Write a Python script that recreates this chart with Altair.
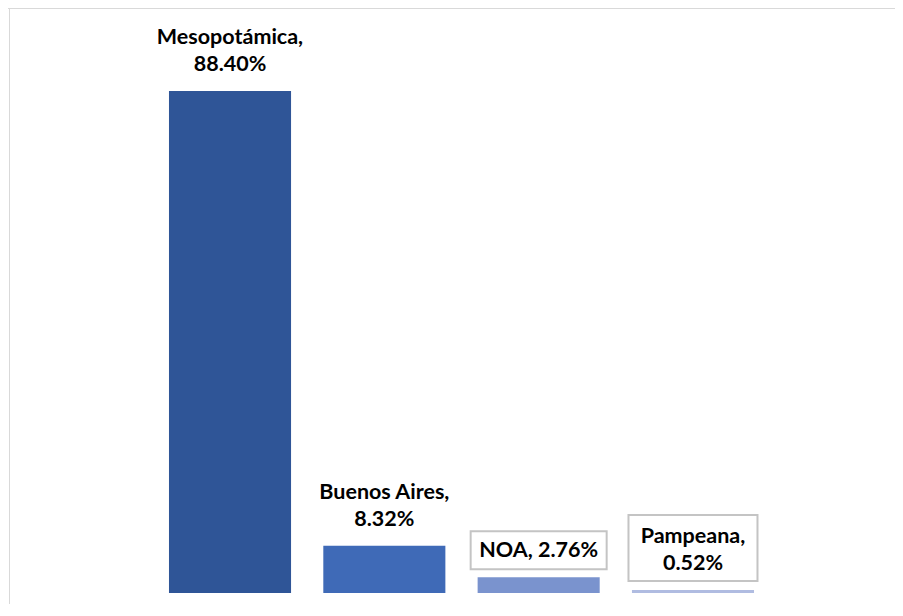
import altair as alt
import pandas as pd

regions = ["Mesopotámica", "Buenos Aires", "NOA", "Pampeana"]
shares = [88.40, 8.32, 2.76, 0.52]
colors = ["#2F5597", "#3F6AB7", "#7A93CE", "#B0BCE1"]

df = pd.DataFrame({"region": regions, "share": shares})
df["line1"] = [f"{r}," for r in regions]
df["line2"] = [f"{v:.2f}%" for v in shares]
df["single"] = [f"{r}, {v:.2f}%" for r, v in zip(regions, shares)]

FONT = "Lato"
FS = 21.5

x = alt.X("region:N", sort=regions, axis=None,
          scale=alt.Scale(domain=regions, range=[144.85, 762.15],
                          paddingInner=0.209, paddingOuter=0.1045))
y = alt.Y("share:Q", axis=None, scale=alt.Scale(domain=[0, 100], range=[585, 17.1]))

base = alt.Chart(df).encode(x=x, y=y)

bars = base.mark_bar().encode(
    color=alt.Color("region:N", scale=alt.Scale(domain=regions, range=colors), legend=None)
)

two_line = base.transform_filter(
    alt.FieldOneOfPredicate(field="region", oneOf=["Mesopotámica", "Buenos Aires", "Pampeana"])
)
txt1 = two_line.mark_text(font=FONT, fontSize=FS, fontWeight="bold", color="#000000",
                          baseline="middle", dy=-53).encode(text="line1:N")
txt2 = two_line.mark_text(font=FONT, fontSize=FS, fontWeight="bold", color="#000000",
                          baseline="middle", dy=-26).encode(text="line2:N")

noa = base.transform_filter(alt.datum.region == "NOA")
noa_box = noa.mark_bar(width=136, fill="white", stroke="#C4C4C4", strokeWidth=2,
                       yOffset=-46, y2Offset=-8).encode(y2="share:Q")
noa_txt = noa.mark_text(font=FONT, fontSize=FS, fontWeight="bold", color="#000000",
                        baseline="middle", dy=-26).encode(text="single:N")

pam = base.transform_filter(alt.datum.region == "Pampeana")
pam_box = pam.mark_bar(width=129, fill="white", stroke="#C4C4C4", strokeWidth=2,
                       yOffset=-75, y2Offset=-9).encode(y2="share:Q")

border = alt.Chart(pd.DataFrame({"k": [0]}))
top_line = border.mark_rule(color="#D9D9D9", strokeWidth=1).encode(
    x=alt.value(0), x2=alt.value(887), y=alt.value(0.5))
left_line = border.mark_rule(color="#D9D9D9", strokeWidth=1).encode(
    x=alt.value(1.5), y=alt.value(0), y2=alt.value(596))

chart = alt.layer(
    top_line, left_line, bars, noa_box, pam_box, txt1, txt2, noa_txt
).properties(
    width=887, height=596, padding=0, autosize=alt.AutoSizeParams(type="none"),
    background="white"
).configure_view(stroke=None)

chart.save("out.html", embed_options={"renderer": "svg", "actions": False})
